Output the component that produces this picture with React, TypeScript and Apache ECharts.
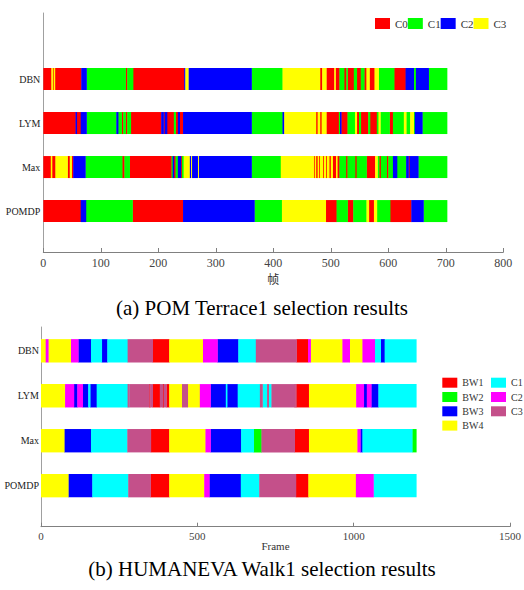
import React, { useEffect, useRef } from 'react';
import * as echarts from 'echarts';

const SERIF = 'Liberation Serif';
const CJK = 'Noto Sans CJK SC';

// ---------- (a) POM Terrace1 ----------
const topRows = ['POMDP', 'Max', 'LYM', 'DBN'];
const topClasses = ['C0', 'C1', 'C2', 'C3'];
const topColors = ['#FF0000', '#00FF00', '#0000FF', '#FFFF00'];
const topCaption = '(a) POM Terrace1 selection results';
const topAxisName = '帧';

// runs: [end frame, class index]
const topDBN: [number, number][] = [[14,0],[16,3],[18,0],[20,3],[66,0],[75,2],[143,1],[146,0],[156,1],[245,0],[247,2],[252,3],[362,2],[416,1],[481,3],[485,0],[492,3],[506,0],[508,3],[515,0],[523,1],[527,0],[529,1],[540,0],[545,1],[552,0],[558,1],[562,0],[567,3],[576,0],[583,3],[610,1],[630,0],[644,2],[648,1],[670,2],[702,1]];
const topLYM: [number, number][] = [[56,0],[58,2],[65,0],[75,2],[127,1],[130,2],[136,1],[139,0],[143,1],[146,0],[152,1],[205,0],[209,2],[211,0],[215,2],[227,0],[230,1],[234,0],[237,2],[243,0],[362,2],[416,1],[419,2],[474,3],[477,0],[481,3],[484,0],[492,3],[514,0],[516,1],[518,2],[529,0],[542,1],[545,3],[549,0],[552,1],[565,0],[568,1],[580,0],[583,1],[586,3],[602,1],[608,0],[627,1],[631,3],[638,1],[644,3],[646,1],[659,2],[702,1]];
const topMax: [number, number][] = [[13,0],[15,3],[21,0],[42,3],[46,0],[49,3],[52,0],[73,2],[137,1],[141,0],[150,1],[223,0],[225,1],[227,2],[230,0],[234,1],[239,2],[241,0],[244,1],[254,3],[257,2],[258,3],[269,2],[270,3],[362,2],[413,1],[470,3],[472,0],[474,3],[477,0],[479,3],[481,0],[486,3],[488,0],[491,3],[493,0],[497,3],[500,0],[503,3],[509,0],[511,3],[515,0],[526,1],[529,0],[542,1],[545,0],[562,1],[577,0],[581,3],[584,1],[587,0],[597,1],[600,0],[608,1],[615,2],[631,1],[635,2],[637,0],[652,2],[702,1]];
const topPOMDP: [number, number][] = [[65,0],[74,2],[155,1],[243,0],[367,2],[415,1],[491,3],[510,0],[529,1],[539,0],[562,1],[566,3],[575,0],[580,3],[603,1],[640,0],[661,2],[702,1]];

// ---------- (b) HUMANEVA Walk1 ----------
const botRows = ['POMDP', 'Max', 'LYM', 'DBN'];
const botClasses = ['BW1', 'BW2', 'BW3', 'BW4', 'C1', 'C2', 'C3'];
const botColors = ['#FF0000', '#00FF00', '#0000FF', '#FFFF00', '#00FFFF', '#FF00FF', '#C4508A'];
const botLegendA = ['BW1', 'BW2', 'BW3', 'BW4'];
const botLegendB = ['C1', 'C2', 'C3'];
const botCaption = '(b) HUMANEVA Walk1 selection results';
const botAxisName = 'Frame';

const botDBN: [number, number][] = [[15,3],[23,5],[96,3],[119,5],[160,2],[194,4],[212,2],[277,4],[357,6],[410,0],[518,3],[564,5],[631,2],[687,4],[817,6],[854,0],[862,5],[964,3],[987,5],[1028,3],[1067,5],[1086,4],[1099,2],[1200,4]];
const botLYM: [number, number][] = [[77,3],[105,5],[116,2],[133,5],[151,2],[157,4],[178,2],[277,4],[280,6],[282,4],[346,6],[349,0],[357,6],[380,0],[389,6],[392,0],[401,6],[410,0],[451,3],[469,6],[508,3],[542,5],[591,2],[595,4],[629,2],[700,4],[708,6],[723,4],[728,6],[737,4],[811,6],[813,0],[816,6],[857,0],[1008,3],[1032,5],[1042,2],[1056,5],[1079,2],[1200,4]];
const botMax: [number, number][] = [[74,3],[160,2],[276,4],[351,6],[410,0],[526,3],[542,5],[640,2],[680,4],[705,1],[811,6],[857,0],[1012,3],[1021,5],[1028,2],[1187,4],[1200,1]];
const botPOMDP: [number, number][] = [[87,3],[164,2],[279,4],[350,6],[410,0],[522,3],[538,5],[639,2],[698,4],[815,6],[855,0],[1007,3],[1063,5],[1200,4]];

function makeRender(barH: number) {
  return (_params: any, api: any) => {
    const a = api.coord([api.value(0), api.value(2)]);
    const b = api.coord([api.value(1), api.value(2)]);
    const h = api.size([0, barH])[1];
    return {
      type: 'rect',
      shape: { x: a[0], y: a[1] - h / 2, width: b[0] - a[0] + 0.4, height: h },
      style: { fill: api.visual('color') },
    };
  };
}

function buildSeries(rowsRuns: [number, number][][], classes: string[], colors: string[], barH: number) {
  return classes.map((name, ci) => {
    const data: number[][] = [];
    rowsRuns.forEach((runs, ri) => {
      let s = 0;
      runs.forEach(([e, c]) => {
        if (c === ci) data.push([s, e, ri]);
        s = e;
      });
    });
    return {
      type: 'custom',
      name,
      itemStyle: { color: colors[ci] },
      encode: { x: [0, 1], y: 2 },
      renderItem: makeRender(barH),
      data,
    };
  });
}

const axisGray = '#808080';

const topOption = {
  animation: false,
  title: {
    text: topCaption,
    left: 'center',
    top: 297,
    padding: 0,
    textStyle: { fontFamily: SERIF, fontSize: 21, fontWeight: 'normal', color: '#000' },
  },
  legend: {
    left: 375,
    top: 18,
    padding: 0,
    itemWidth: 15,
    itemHeight: 11,
    itemGap: 0,
    icon: 'rect',
    selectedMode: false,
    textStyle: { fontFamily: SERIF, fontSize: 11, color: '#333' },
    data: topClasses,
  },
  grid: { left: 43.3, right: 20.7, top: 13, height: 239 },
  xAxis: {
    type: 'value',
    min: 0,
    max: 800,
    interval: 100,
    name: topAxisName,
    nameLocation: 'middle',
    nameGap: 20,
    nameMoveOverlap: false,
    nameTextStyle: { fontFamily: CJK, fontSize: 12, color: '#333' },
    axisLine: { onZero: false, lineStyle: { color: axisGray } },
    axisTick: { inside: true, length: 4, lineStyle: { color: axisGray } },
    axisLabel: { margin: 5, fontFamily: SERIF, fontSize: 12, color: '#444', formatter: (v: number) => String(v) },
    splitLine: { show: false },
  },
  yAxis: {
    type: 'value',
    min: -0.93,
    max: 4.5,
    axisLine: { show: true, onZero: false, lineStyle: { color: '#a0a0a0' } },
    axisTick: { show: false },
    splitLine: { show: false },
    axisLabel: {
      customValues: [0, 1, 2, 3],
      formatter: (v: number) => topRows[Math.round(v)] ?? '',
      margin: 3,
      fontFamily: SERIF,
      fontSize: 10,
      color: '#222',
    },
  },
  series: buildSeries([topPOMDP, topMax, topLYM, topDBN], topClasses, topColors, 0.5),
};

const legendCommon = {
  orient: 'vertical',
  padding: 0,
  itemWidth: 15,
  itemHeight: 10,
  itemGap: 4.3,
  icon: 'rect',
  selectedMode: false,
  textStyle: { fontFamily: SERIF, fontSize: 10, lineHeight: 10, color: '#333' },
};

const botOption = {
  animation: false,
  title: {
    text: botCaption,
    left: 'center',
    top: 238,
    padding: 0,
    textStyle: { fontFamily: SERIF, fontSize: 21, fontWeight: 'normal', color: '#000' },
  },
  legend: [
    { ...legendCommon, left: 442.3, top: 57.7, data: botLegendA },
    { ...legendCommon, left: 491, top: 57.7, data: botLegendB },
  ],
  grid: { left: 41, right: 13.3, top: 7, height: 199.7 },
  xAxis: {
    type: 'value',
    min: 0,
    max: 1500,
    interval: 500,
    name: botAxisName,
    nameLocation: 'middle',
    nameGap: 14,
    nameMoveOverlap: false,
    nameTextStyle: { fontFamily: SERIF, fontSize: 11, color: '#333' },
    axisLine: { onZero: false, lineStyle: { color: axisGray } },
    axisTick: { inside: true, length: 4, lineStyle: { color: axisGray } },
    axisLabel: { margin: 4, fontFamily: SERIF, fontSize: 11, color: '#444', formatter: (v: number) => String(v) },
    splitLine: { show: false },
  },
  yAxis: {
    type: 'value',
    min: -0.913,
    max: 3.53,
    axisLine: { show: true, onZero: false, lineStyle: { color: '#a0a0a0' } },
    axisTick: { show: false },
    splitLine: { show: false },
    axisLabel: {
      customValues: [0, 1, 2, 3],
      formatter: (v: number) => botRows[Math.round(v)] ?? '',
      margin: 2,
      fontFamily: SERIF,
      fontSize: 10,
      color: '#222',
    },
  },
  series: buildSeries([botPOMDP, botMax, botLYM, botDBN], botClasses, botColors, 0.52),
};

function Chart({ option, top, height }: { option: any; top: number; height: number }) {
  const ref = useRef<HTMLDivElement>(null);
  useEffect(() => {
    if (!ref.current) return;
    const chart = echarts.init(ref.current, null, { renderer: 'svg' });
    chart.setOption(option);
    return () => chart.dispose();
  }, [option]);
  return (
    <div
      ref={ref}
      style={{ position: 'absolute', left: 0, top, width: 524, height }}
    />
  );
}

export default function App() {
  return (
    <div style={{ position: 'absolute', left: 0, top: 0, width: 524, height: 590, background: '#fff' }}>
      <Chart option={topOption} top={0} height={320} />
      <Chart option={botOption} top={320} height={270} />
    </div>
  );
}
